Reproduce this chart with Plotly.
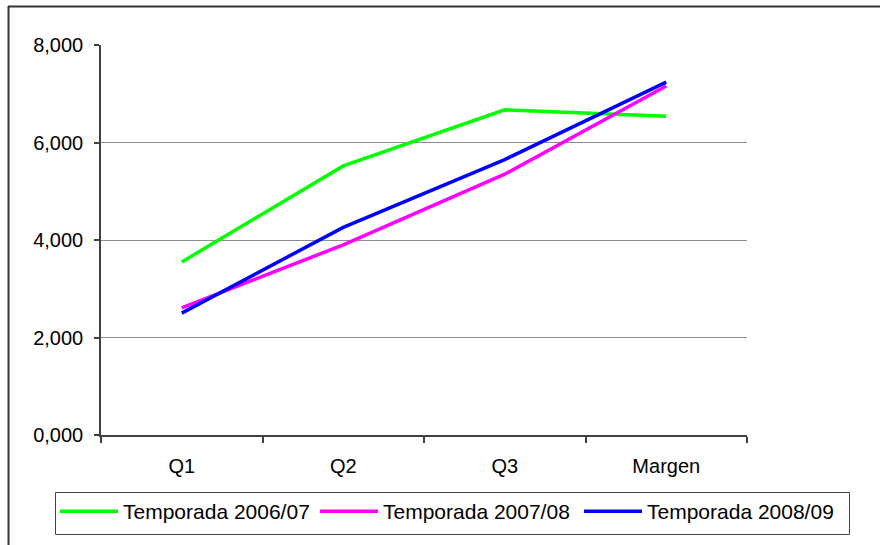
import plotly.graph_objects as go

categories = ["Q1", "Q2", "Q3", "Margen"]
temporada_0607 = [3.550, 5.520, 6.670, 6.540]
temporada_0708 = [2.610, 3.900, 5.350, 7.160]
temporada_0809 = [2.500, 4.260, 5.650, 7.240]
series_names = ["Temporada 2006/07", "Temporada 2007/08", "Temporada 2008/09"]
series_colors = ["#00ff00", "#ff00ff", "#0000ff"]
y_ticks = [0, 2, 4, 6, 8]

W, H = 880, 545
L, R, T, B = 101, 133, 45, 110
pw, ph = W - L - R, H - T - B

def px(x):
    return (x - L) / pw

def py(y):
    return (H - B - y) / ph

axis_font = dict(family="Liberation Sans, Arial, sans-serif", size=20, color="black")
legend_font = dict(family="Liberation Sans, Arial, sans-serif", size=21, color="black")

# one single-entry legend per series, laid side by side in a shared frame
legend_ids = ["legend", "legend2", "legend3"]
legend_left = [55, 315, 579]

fig = go.Figure()
for name, vals, col, lid in zip(series_names,
                                [temporada_0607, temporada_0708, temporada_0809],
                                series_colors, legend_ids):
    fig.add_trace(go.Scatter(x=categories, y=vals, mode="lines", name=name,
                             legend=lid, line=dict(color=col, width=3.5)))

legends = {}
for lid, lx in zip(legend_ids, legend_left):
    legends[lid] = dict(orientation="h", xref="container", yref="container",
                        x=lx / W, y=1 - 491 / H, xanchor="left", yanchor="top",
                        bgcolor="rgba(0,0,0,0)", borderwidth=0,
                        font=legend_font, itemwidth=58)

frame = dict(color="#333333", width=2)

fig.update_layout(
    width=W, height=H,
    margin=dict(l=L, r=R, t=T, b=B, pad=0),
    paper_bgcolor="white", plot_bgcolor="white",
    separators=",.",
    font=axis_font,
    showlegend=True,
    **legends,
    xaxis=dict(type="category", range=[-0.5, 3.5], tickson="boundaries",
               ticks="outside", ticklen=6, tickcolor="#404040", tickwidth=1.5,
               showline=True, linecolor="#404040", linewidth=1.5,
               showgrid=False, zeroline=False, fixedrange=True,
               ticklabelstandoff=12,
               automargin=False, tickfont=axis_font),
    yaxis=dict(range=[0, 8], tickvals=y_ticks, tickformat=".3f",
               ticks="outside", ticklen=5, tickcolor="#404040", tickwidth=1.5,
               showline=True, linecolor="#404040", linewidth=1.5,
               showgrid=True, gridcolor="#8c8c8c", gridwidth=1,
               zeroline=False, ticklabelstandoff=7, fixedrange=True,
               automargin=False, tickfont=axis_font),
    shapes=[
        dict(type="line", xref="paper", yref="paper",
             x0=px(8), x1=px(885), y0=py(6.5), y1=py(6.5), line=frame),
        dict(type="line", xref="paper", yref="paper",
             x0=px(8.5), x1=px(8.5), y0=py(6), y1=py(620), line=frame),
        dict(type="rect", xref="paper", yref="paper",
             x0=px(55.5), x1=px(849.5), y0=py(492.5), y1=py(534.5),
             line=dict(color="#444444", width=1), fillcolor="rgba(0,0,0,0)"),
    ],
)

fig.write_html("out.html")
